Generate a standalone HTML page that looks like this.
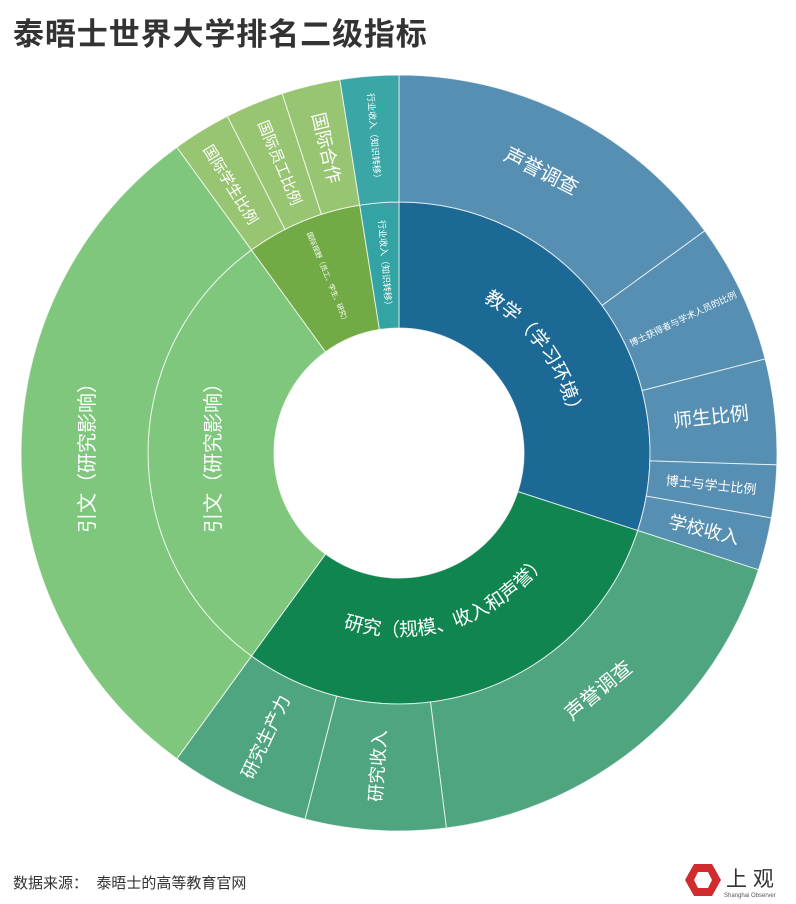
<!DOCTYPE html>
<html><head><meta charset="utf-8">
<style>
html,body{margin:0;padding:0;background:#fff;}
body{width:796px;height:904px;position:relative;overflow:hidden;font-family:"Liberation Sans","Noto Sans CJK SC",sans-serif;}
.title{position:absolute;left:13px;top:9px;font-size:31px;font-weight:bold;color:#333;letter-spacing:0.9px;}
.src{position:absolute;left:13px;top:872px;font-size:15px;color:#333;}
svg text{font-family:"Liberation Sans","Noto Sans CJK SC",sans-serif;fill:#fff;}
</style></head><body>
<div class="title">泰晤士世界大学排名二级指标</div>
<svg width="796" height="904" style="position:absolute;left:0;top:0">
<g id="segs" stroke="#fff" stroke-opacity="0.75" stroke-width="1"></g>
<defs>
<path id="pTeach"/>
<path id="pRes"/>
</defs>
<text font-size="19" text-anchor="middle"><textPath href="#pTeach" startOffset="50%">教学（学习环境）</textPath></text>
<text font-size="19" text-anchor="middle"><textPath href="#pRes" startOffset="50%">研究（规模、收入和声誉）</textPath></text>

<g text-anchor="middle" dominant-baseline="central">
<text transform="translate(541,172) rotate(27)" font-size="20">声誉调查</text>
<text transform="translate(683,319) rotate(-25.2)" font-size="9">博士获得者与学术人员的比例</text>
<text transform="translate(711,418) rotate(-6.3)" font-size="19">师生比例</text>
<text transform="translate(711,485) rotate(5.85)" font-size="13">博士与学士比例</text>
<text transform="translate(704,530) rotate(13.95)" font-size="18">学校收入</text>
<text transform="translate(599,691) rotate(-39.6)" font-size="20">声誉调查</text>
<text transform="translate(378,766) rotate(-86.4)" font-size="18">研究收入</text>
<text transform="translate(266,737) rotate(-64.8)" font-size="18">研究生产力</text>
<text transform="translate(214,453) rotate(-90)" font-size="20">引文（研究影响）</text>
<text transform="translate(88,453) rotate(-90)" font-size="20">引文（研究影响）</text>
<text transform="translate(230,185) rotate(58.5)" font-size="15">国际学生比例</text>
<text transform="translate(279,163) rotate(67.5)" font-size="15">国际员工比例</text>
<text transform="translate(326,148) rotate(76.5)" font-size="18">国际合作</text>
<text transform="translate(374,138) rotate(85.5)" font-size="9">行业收入（知识转移）</text>
<text transform="translate(385,265) rotate(85.5)" font-size="9">行业收入（知识转移）</text>
<text transform="translate(327,278) rotate(67.5)" font-size="7">国际视野（员工、学生、研究）</text>
</g>

<g transform="translate(703,880)">
<polygon points="-9,-16 9,-16 18,0 9,16 -9,16 -18,0" fill="#d12a2f"/>
<polygon points="-5,-8 5,-8 9,0 5,8 -5,8 -9,0" fill="#fff"/>
</g>
<text x="726" y="886" font-size="21" style="fill:#333">上 观</text>
<text x="724" y="897" font-size="6" style="fill:#555">Shanghai Observer</text>
</svg>
<div class="src">数据来源：&nbsp;&nbsp;泰晤士的高等教育官网</div>
<script>
var cx=399,cy=453,r0=125,r1=251,r2=378;
function pt(r,a){var t=a*Math.PI/180;return [cx+r*Math.sin(t),cy-r*Math.cos(t)];}
function seg(a0,a1,ri,ro,col){
 var p1=pt(ro,a0),p2=pt(ro,a1),p3=pt(ri,a1),p4=pt(ri,a0),lg=(a1-a0)>180?1:0;
 var d="M"+p1[0]+" "+p1[1]+"A"+ro+" "+ro+" 0 "+lg+" 1 "+p2[0]+" "+p2[1]+"L"+p3[0]+" "+p3[1]+"A"+ri+" "+ri+" 0 "+lg+" 0 "+p4[0]+" "+p4[1]+"Z";
 var e=document.createElementNS("http://www.w3.org/2000/svg","path");
 e.setAttribute("d",d);e.setAttribute("fill",col);
 document.getElementById("segs").appendChild(e);
}
var inner=[[0,108,"#1d6996"],[108,216,"#108550"],[216,324,"#80c77e"],[324,351,"#72ab45"],[351,360,"#34a3a3"]];
inner.forEach(function(s){seg(s[0],s[1],r0,r1,s[2]);});
var outer=[[0,54,"#568fb2"],[54,75.6,"#568fb2"],[75.6,91.8,"#568fb2"],[91.8,99.9,"#568fb2"],[99.9,108,"#568fb2"],
[108,172.8,"#4fa57f"],[172.8,194.4,"#4fa57f"],[194.4,216,"#4fa57f"],[216,324,"#80c77e"],
[324,333,"#98c572"],[333,342,"#98c572"],[342,351,"#98c572"],[351,360,"#3aa6a5"]];
outer.forEach(function(s){seg(s[0],s[1],r1,r2,s[2]);});
var a=pt(174,5),b=pt(174,103);
document.getElementById("pTeach").setAttribute("d","M"+a[0]+" "+a[1]+" A174 174 0 0 1 "+b[0]+" "+b[1]);
var c=pt(183,213),d2=pt(183,111);
document.getElementById("pRes").setAttribute("d","M"+c[0]+" "+c[1]+" A183 183 0 0 0 "+d2[0]+" "+d2[1]);
</script>
</body></html>
